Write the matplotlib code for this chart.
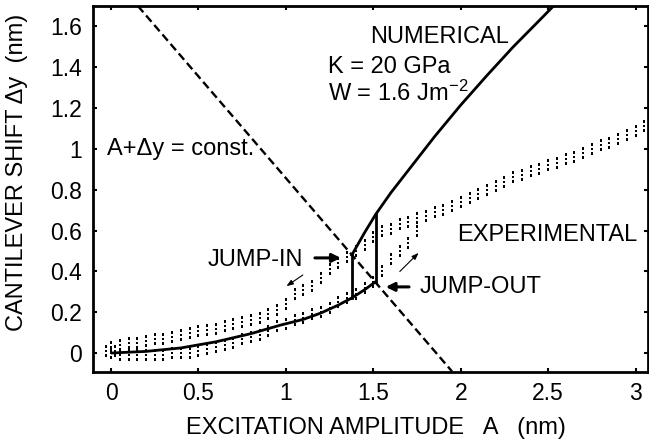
import matplotlib
matplotlib.use("Agg")
import matplotlib.pyplot as plt
from matplotlib.path import Path

plt.rcParams['font.family'] = ['Liberation Sans', 'DejaVu Sans']
plt.rcParams['mathtext.fontset'] = 'custom'
plt.rcParams['mathtext.rm'] = 'Liberation Sans'
plt.rcParams['mathtext.it'] = 'Liberation Sans'

# ---- data ----
# numerical model: lower (approach) branch and upper (contact) branch
num_lower_A = [0.0, 0.2, 0.4, 0.6, 0.8, 0.97, 1.1, 1.2, 1.3, 1.377, 1.45, 1.514]
num_lower_y = [0.0, 0.008, 0.025, 0.055, 0.095, 0.137, 0.165, 0.196, 0.235, 0.27, 0.31, 0.35]
num_upper_A = [1.377, 1.45, 1.514, 1.6, 1.7, 1.85, 2.0, 2.15, 2.3, 2.45, 2.53]
num_upper_y = [0.48, 0.59, 0.68, 0.785, 0.895, 1.06, 1.215, 1.36, 1.50, 1.63, 1.70]
jump_in_A = 1.377
jump_out_A = 1.514

# A + dy = const line
const_A = [0.154, 1.95]
const_y = [1.70, -0.09]

# experimental (retract) upper branch
exp_up_A = [0.00, 0.05, 0.10, 0.15, 0.20, 0.25, 0.30, 0.35, 0.40, 0.45,
            0.50, 0.55, 0.60, 0.65, 0.70, 0.75, 0.80, 0.85, 0.90, 0.95,
            1.00, 1.05, 1.10, 1.15, 1.20, 1.25, 1.30, 1.35, 1.40, 1.45,
            1.50, 1.55, 1.60, 1.65, 1.70, 1.75, 1.80, 1.85, 1.90, 1.95,
            2.00, 2.05, 2.10, 2.15, 2.20, 2.25, 2.30, 2.35, 2.40, 2.45,
            2.50, 2.55, 2.60, 2.65, 2.70, 2.75, 2.80, 2.85, 2.90, 2.95,
            3.00, 3.05]
exp_up_y = [0.03, 0.04, 0.05, 0.05, 0.06, 0.07, 0.07, 0.08, 0.09, 0.10,
            0.11, 0.115, 0.12, 0.13, 0.14, 0.15, 0.16, 0.17, 0.19, 0.21,
            0.24, 0.29, 0.31, 0.33, 0.37, 0.41, 0.44, 0.47, 0.50, 0.53,
            0.57, 0.60, 0.61, 0.63, 0.64, 0.66, 0.67, 0.69, 0.70, 0.72,
            0.74, 0.76, 0.78, 0.80, 0.82, 0.84, 0.86, 0.87, 0.89, 0.90,
            0.92, 0.93, 0.95, 0.96, 0.98, 1.00, 1.02, 1.03, 1.05, 1.07,
            1.09, 1.11]

# experimental (approach) lower branch
exp_lo_A = [-0.03, 0.0, 0.02, 0.05, 0.10, 0.15, 0.20, 0.25, 0.30, 0.35, 0.40, 0.45,
            0.50, 0.55, 0.60, 0.65, 0.70, 0.75, 0.80, 0.85, 0.90, 0.95,
            1.00, 1.05, 1.10, 1.15, 1.20, 1.25, 1.30, 1.35, 1.40, 1.45,
            1.50, 1.55, 1.60, 1.65, 1.70, 1.75]
exp_lo_y = [0.01, 0.0, 0.01, -0.01, -0.01, -0.01, -0.01, -0.01, -0.01, 0.0, 0.0, 0.0,
            0.01, 0.02, 0.03, 0.04, 0.05, 0.07, 0.08, 0.09, 0.11, 0.13,
            0.14, 0.16, 0.17, 0.19, 0.20, 0.22, 0.25, 0.27, 0.29, 0.32,
            0.35, 0.40, 0.46, 0.50, 0.54, 0.60]

xticks = [0, 0.5, 1, 1.5, 2, 2.5, 3]
xticklabels = ["0", "0.5", "1", "1.5", "2", "2.5", "3"]
yticks = [0, 0.2, 0.4, 0.6, 0.8, 1.0, 1.2, 1.4, 1.6]
yticklabels = ["0", "0.2", "0.4", "0.6", "0.8", "1", "1.2", "1.4", "1.6"]

# ---- marker: small stacked dots ----
def dot_column():
    verts, codes = [], []
    for cy in (-1.0, 0.0, 1.0):
        sq = [(-0.3, cy - 0.3), (0.3, cy - 0.3), (0.3, cy + 0.3),
              (-0.3, cy + 0.3), (-0.3, cy - 0.3)]
        verts += sq
        codes += [Path.MOVETO, Path.LINETO, Path.LINETO, Path.LINETO, Path.CLOSEPOLY]
    return Path(verts, codes)

col_marker = dot_column()

fig = plt.figure(figsize=(6.49, 4.45), dpi=100)
ax = fig.add_axes([0.1433, 0.164, 0.855, 0.8225])

# experimental
ax.plot(exp_up_A, exp_up_y, linestyle='none', marker=col_marker, markersize=9,
        color='black', markeredgewidth=0)
ax.plot(exp_lo_A, exp_lo_y, linestyle='none', marker=col_marker, markersize=9,
        color='black', markeredgewidth=0)

# numerical
ax.plot(num_lower_A, num_lower_y, color='black', lw=2.0, solid_capstyle='butt')
ax.plot(num_upper_A, num_upper_y, color='black', lw=2.0)
ax.plot([jump_in_A, jump_in_A], [num_lower_y[num_lower_A.index(jump_in_A)], num_upper_y[0]],
        color='black', lw=2.0)
ax.plot([jump_out_A, jump_out_A], [num_lower_y[-1], num_upper_y[num_upper_A.index(jump_out_A)]],
        color='black', lw=2.0)

# constant line
ax.plot(const_A, const_y, color='black', lw=1.7, linestyle=(0, (3.5, 1.8)))

fs = 17
ax.text(1.48, 1.55, "NUMERICAL", fontsize=fs, va='center', ha='left')
ax.text(1.24, 1.40, "K = 20 GPa", fontsize=fs, va='center', ha='left')
ax.text(1.24, 1.27, r"W = 1.6 Jm$^{\mathrm{-2}}$", fontsize=fs, va='center', ha='left')
ax.text(-0.023, 1.0, "A+Δy = const.", fontsize=fs, va='center', ha='left')
ax.text(1.98, 0.58, "EXPERIMENTAL", fontsize=fs, va='center', ha='left')
ax.text(1.097, 0.456, "JUMP-IN", fontsize=fs, va='center', ha='right')
ax.text(1.766, 0.324, "JUMP-OUT", fontsize=fs, va='center', ha='left')

ax.annotate("", xy=(1.33, 0.466), xytext=(1.15, 0.466),
            arrowprops=dict(arrowstyle='-|>,head_length=0.5,head_width=0.25', lw=2.2, color='black'))
ax.annotate("", xy=(1.555, 0.324), xytext=(1.72, 0.324),
            arrowprops=dict(arrowstyle='-|>,head_length=0.5,head_width=0.25', lw=2.2, color='black'))
ax.annotate("", xy=(0.99, 0.32), xytext=(1.11, 0.39),
            arrowprops=dict(arrowstyle='-|>,head_length=0.4,head_width=0.15', lw=0.8, color='black'))
ax.annotate("", xy=(1.77, 0.50), xytext=(1.64, 0.39),
            arrowprops=dict(arrowstyle='-|>,head_length=0.4,head_width=0.15', lw=0.8, color='black'))

ax.set_xlim(-0.103, 3.07)
ax.set_ylim(-0.093, 1.70)
ax.set_xticks(xticks)
ax.set_xticklabels(xticklabels)
ax.set_yticks(yticks)
ax.set_yticklabels(yticklabels)
ax.tick_params(direction='in', length=3, width=1.5, top=True, right=True,
               labelsize=16.5)
ax.tick_params(axis='x', pad=7)
ax.tick_params(axis='y', pad=8)
for s in ax.spines.values():
    s.set_linewidth(2.0)

ax.set_xlabel("EXCITATION AMPLITUDE   A   (nm)", fontsize=17)
ax.set_ylabel("CANTILEVER SHIFT Δy  (nm)", fontsize=17)
ax.xaxis.set_label_coords(0.51, -0.123)
ax.yaxis.set_label_coords(-0.118, 0.545)

fig.savefig("out.png", dpi=100)
